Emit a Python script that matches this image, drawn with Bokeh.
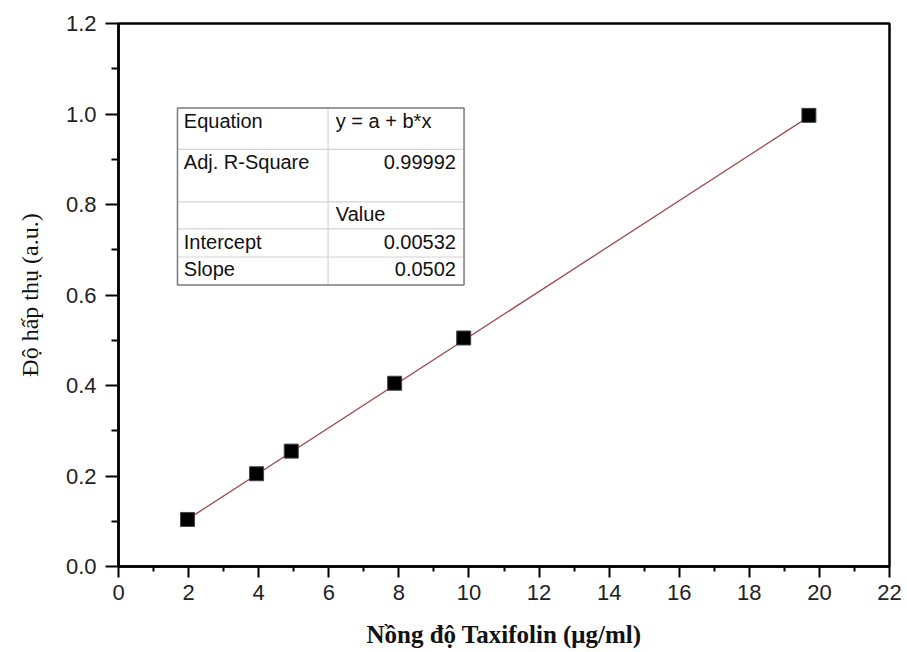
from bokeh.plotting import figure
from bokeh.models import Range1d, FixedTicker, ColumnDataSource, CustomJSTickFormatter
from bokeh.core.properties import value
from bokeh.embed import file_html
from bokeh.resources import INLINE

# ---- data ----
conc = [1.97, 3.94, 4.93, 7.88, 9.85, 19.7]
absorb = [0.104, 0.205, 0.255, 0.405, 0.505, 0.997]
intercept = 0.00532
slope = 0.0502
table_left = ["Equation", "Adj. R-Square", "", "Intercept", "Slope"]
table_right = ["y = a + b*x", "0.99992", "Value", "0.00532", "0.0502"]
x_ticks = [0, 2, 4, 6, 8, 10, 12, 14, 16, 18, 20, 22]
x_minor = [1, 3, 5, 7, 9, 11, 13, 15, 17, 19, 21]
y_ticks = [0.0, 0.2, 0.4, 0.6, 0.8, 1.0, 1.2]
y_minor = [0.1, 0.3, 0.5, 0.7, 0.9, 1.1]
x_label = "Nồng độ Taxifolin (μg/ml)"
y_label = "Độ hấp thụ (a.u.)"

p = figure(width=907, height=652, output_backend="svg", toolbar_location=None,
           x_range=Range1d(0, 22), y_range=Range1d(0, 1.2),
           min_border_left=118, min_border_right=18, min_border_top=23, min_border_bottom=86)
p.grid.visible = False
p.background_fill_color = "white"
p.border_fill_color = "white"
p.outline_line_color = "black"
p.outline_line_width = 2.5
p.outline_line_alpha = 1

p.xaxis.ticker = FixedTicker(ticks=x_ticks, minor_ticks=x_minor)
p.yaxis.ticker = FixedTicker(ticks=y_ticks, minor_ticks=y_minor)
p.yaxis.formatter = CustomJSTickFormatter(code="return tick.toFixed(1);")
for ax in (p.xaxis[0], p.yaxis[0]):
    ax.axis_line_width = 2.5
    ax.axis_line_color = "black"
    ax.major_tick_in = 0
    ax.minor_tick_in = 0
    ax.major_tick_line_width = 2
    ax.minor_tick_line_width = 2
    ax.major_label_text_font = "Liberation Sans"
    ax.major_label_text_font_size = "22px"
    ax.major_label_text_color = "#222222"
    ax.axis_label_text_font = "Liberation Serif"
    ax.axis_label_text_color = "#111111"
p.xaxis.axis_label_text_font_style = "bold"
p.xaxis.axis_label_text_font_size = "25px"
p.yaxis.axis_label_text_font_style = "normal"
p.yaxis.axis_label_text_font_size = "24px"
p.xaxis.major_tick_out = 11
p.xaxis.minor_tick_out = 5
p.yaxis.major_tick_out = 13
p.yaxis.minor_tick_out = 7
p.xaxis.major_label_standoff = 7
p.yaxis.major_label_standoff = 9
p.xaxis.axis_label_standoff = 18
p.yaxis.axis_label_standoff = 20
p.xaxis.axis_label = x_label
p.yaxis.axis_label = y_label

# fit line from table parameters
fx = [conc[0], conc[-1]]
fy = [intercept + slope * v for v in fx]
p.line(fx, fy, line_color="#a04848", line_width=1.3)
p.scatter(conc, absorb, marker="square", size=14, fill_color="black", line_color="#444444", line_width=1)

# ---- table (layout) ----
tx0, tx1, tx2 = 1.683, 5.98, 9.86
row_edges = [1.013, 0.922, 0.806, 0.746, 0.684, 0.622]
p.quad(left=[tx0], right=[tx2], top=[row_edges[0]], bottom=[row_edges[-1]],
       fill_color="white", line_color=None)
p.segment(x0=[tx0] * 4, x1=[tx2] * 4, y0=row_edges[1:5], y1=row_edges[1:5],
          line_color="#d4d4d4", line_width=1.2)
p.segment(x0=[tx1], x1=[tx1], y0=[row_edges[0]], y1=[row_edges[-1]],
          line_color="#d4d4d4", line_width=1.2)
p.quad(left=[tx0], right=[tx2], top=[row_edges[0]], bottom=[row_edges[-1]],
       fill_color=None, line_color="#7a7a7a", line_width=1.5)

text_y = [0.984, 0.895, 0.778, 0.718, 0.657]
p.text(x=[1.863] * 5, y=text_y, text=table_left, text_font=value("Liberation Sans"),
       text_font_size=value("20px"), text_baseline="middle", text_align="left", text_color="#111111")
right_align = ["left", "right", "left", "right", "right"]
right_x = [6.2, 9.63, 6.2, 9.63, 9.63]
src = ColumnDataSource(dict(x=right_x, y=text_y, t=table_right, a=right_align))
p.text(x="x", y="y", text="t", text_align="a", source=src, text_font=value("Liberation Sans"),
       text_font_size=value("20px"), text_baseline="middle", text_color="#111111")

open("out.html", "w").write(file_html(p, INLINE))
